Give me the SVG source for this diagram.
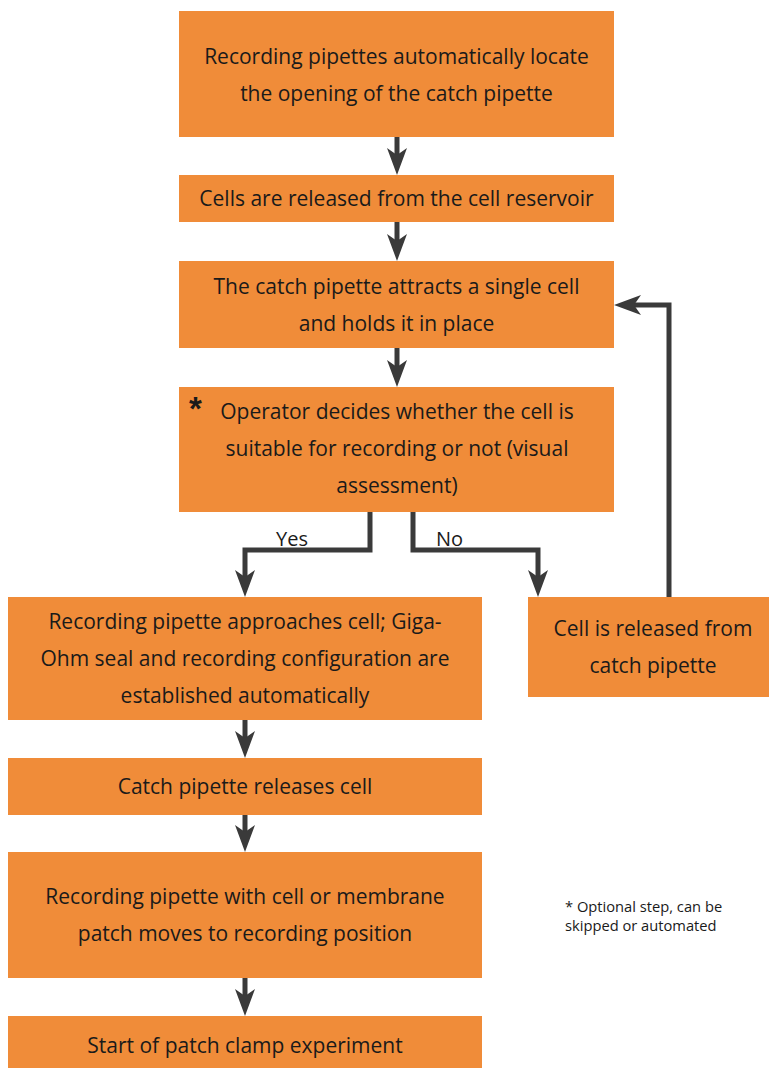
<svg xmlns="http://www.w3.org/2000/svg" width="769" height="1068" viewBox="0 0 769 1068">
<style>
.box{fill:#f08c39;}
.t{font-family:"Open Sans","Liberation Sans",sans-serif;font-size:21px;fill:#1a1a1a;text-anchor:middle;}
.lbl{font-family:"Open Sans","Liberation Sans",sans-serif;font-size:20px;fill:#1a1a1a;}
.fn{font-family:"Open Sans","Liberation Sans",sans-serif;font-size:14.7px;fill:#1a1a1a;}
.c{fill:none;stroke:#3a3a3a;stroke-width:5;marker-end:url(#ah);}
</style>
<defs>
<marker id="ah" markerUnits="userSpaceOnUse" viewBox="-10 -11 30 22" markerWidth="30" markerHeight="22" refX="0" refY="0" orient="auto">
<path d="M18,0 L-9,-10 L-2,0 L-9,10 Z" fill="#3a3a3a"/>
</marker>
</defs>
<rect width="769" height="1068" fill="#ffffff"/>
<g id="connectors">
<path class="c" d="M397,137 V157"/>
<path class="c" d="M397,222 V243"/>
<path class="c" d="M397,348 V369"/>
<path class="c" d="M370,512 V550 H245 V579"/>
<path class="c" d="M413,512 V550 H538 V579"/>
<path class="c" d="M669,597 V305 H632"/>
<path class="c" d="M245,720 V740"/>
<path class="c" d="M245,815 V834"/>
<path class="c" d="M245,978 V998"/>
</g>
<g id="n1"><rect class="box" x="179" y="11" width="435" height="126"/>
<text class="t" x="396.5" y="64">Recording pipettes automatically locate</text>
<text class="t" x="396.5" y="101">the opening of the catch pipette</text></g>
<g id="n2"><rect class="box" x="179" y="175" width="435" height="47"/>
<text class="t" x="396.5" y="206">Cells are released from the cell reservoir</text></g>
<g id="n3"><rect class="box" x="179" y="261" width="435" height="87"/>
<text class="t" x="396.5" y="294">The catch pipette attracts a single cell</text>
<text class="t" x="396.5" y="331">and holds it in place</text></g>
<g id="n4"><rect class="box" x="179" y="387" width="435" height="125"/>
<text x="189" y="420" style="font-family:'Liberation Sans',sans-serif;font-size:33px;font-weight:bold;fill:#1a1a1a">*</text>
<text class="t" x="397" y="419">Operator decides whether the cell is</text>
<text class="t" x="397" y="456">suitable for recording or not (visual</text>
<text class="t" x="397" y="493">assessment)</text></g>
<g id="n5"><rect class="box" x="8" y="597" width="474" height="123"/>
<text class="t" x="245" y="629">Recording pipette approaches cell; Giga-</text>
<text class="t" x="245" y="666">Ohm seal and recording configuration are</text>
<text class="t" x="245" y="703">established automatically</text></g>
<g id="n6"><rect class="box" x="528" y="597" width="241" height="100"/>
<text class="t" x="653" y="636">Cell is released from</text>
<text class="t" x="653" y="673">catch pipette</text></g>
<g id="n7"><rect class="box" x="8" y="758" width="474" height="57"/>
<text class="t" x="245" y="794">Catch pipette releases cell</text></g>
<g id="n8"><rect class="box" x="8" y="852" width="474" height="126"/>
<text class="t" x="245" y="904">Recording pipette with cell or membrane</text>
<text class="t" x="245" y="941">patch moves to recording position</text></g>
<g id="n9"><rect class="box" x="8" y="1016" width="474" height="52"/>
<text class="t" x="245" y="1053">Start of patch clamp experiment</text></g>
<text class="lbl" x="276" y="546">Yes</text>
<text class="lbl" x="436" y="546">No</text>
<text class="fn" x="565" y="912">* Optional step, can be</text>
<text class="fn" x="565" y="931">skipped or automated</text>
</svg>
